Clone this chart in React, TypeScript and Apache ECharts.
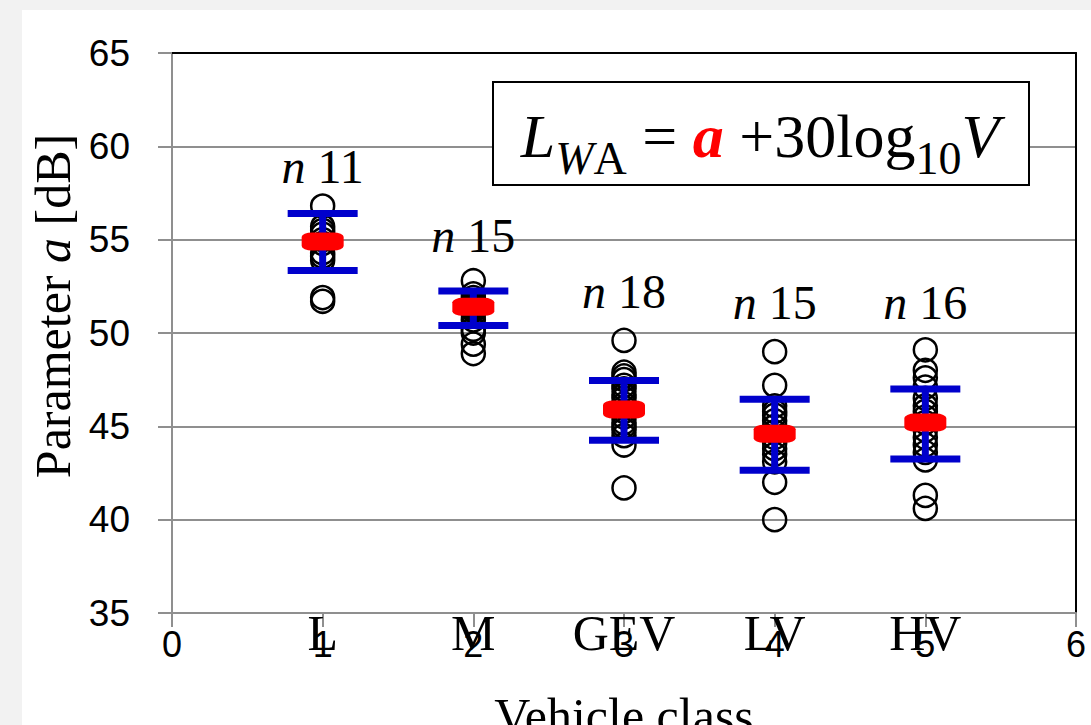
import React, { useEffect, useRef } from "react";
import * as echarts from "echarts";

// ---- data ----
const categories = ["L", "M", "GEV", "LV", "HV"];
const classPositions = [1, 2, 3, 4, 5];
const sampleCounts = [11, 15, 18, 15, 16];

const valuesL = [56.8, 55.7, 55.5, 55.3, 55.0, 54.8, 54.3, 54.1, 53.9, 51.9, 51.7];
const valuesM = [52.8, 52.1, 51.9, 51.7, 51.6, 51.5, 51.4, 51.3, 51.2, 51.0, 50.7, 50.2, 50.0, 49.4, 48.9];
const valuesGEV = [49.6, 47.9, 47.7, 47.5, 47.2, 47.0, 46.7, 46.5, 46.2, 46.0, 45.8, 45.5, 45.2, 45.0, 44.8, 44.5, 44.0, 41.7];
const valuesLV = [49.0, 47.2, 46.1, 45.8, 45.6, 45.3, 45.0, 44.7, 44.4, 44.1, 43.8, 43.5, 43.1, 42.0, 40.0];
const valuesHV = [49.1, 48.0, 47.6, 47.1, 46.5, 46.1, 45.8, 45.5, 45.2, 44.8, 44.4, 44.0, 43.6, 43.2, 41.3, 40.6];

const meanValues = [54.9, 51.4, 45.9, 44.6, 45.2];
const upperValues = [56.4, 52.25, 47.45, 46.45, 47.0];
const lowerValues = [53.35, 50.4, 44.25, 42.65, 43.25];
const countLabelY = [58.9, 55.2, 52.2, 51.65, 51.65];

const yMin = 35;
const yMax = 65;
const yInterval = 5;
const xMin = 0;
const xMax = 6;
const xInterval = 1;

const SERIF = "'Liberation Serif', 'Times New Roman', serif";
const SANS = "'Liberation Sans', Arial, sans-serif";
const GRID_GRAY = "#8f8f8f";

export default function App() {
  const ref = useRef<HTMLDivElement>(null);

  useEffect(() => {
    if (!ref.current) return;
    const chart = echarts.init(ref.current, undefined, { renderer: "svg" });

    const groups = [valuesL, valuesM, valuesGEV, valuesLV, valuesHV];
    const pointData: number[][] = [];
    groups.forEach((vals, i) => vals.forEach((v) => pointData.push([classPositions[i], v])));

    const subStyle = { fontFamily: SERIF, fontSize: 46, lineHeight: 20, padding: [44, 0, 0, 0], fill: "#000" };

    const option: any = {
      animation: false,
      backgroundColor: "transparent",
      grid: { left: 172, top: 53, width: 904, height: 560, containLabel: false },
      xAxis: [
        {
          type: "value",
          position: "bottom",
          min: xMin,
          max: xMax,
          interval: xInterval,
          axisLine: { show: true, onZero: false, lineStyle: { color: GRID_GRAY, width: 2 } },
          axisTick: { show: true, length: 14, lineStyle: { color: GRID_GRAY, width: 2 } },
          splitLine: { show: false },
          axisLabel: { color: "#000", fontFamily: SANS, fontSize: 36, margin: 13 },
          name: "Vehicle class",
          nameLocation: "middle",
          nameGap: 78,
          nameTextStyle: { color: "#000", fontFamily: SERIF, fontSize: 50 },
        },
        {
          type: "value",
          position: "bottom",
          min: xMin,
          max: xMax,
          interval: xInterval,
          axisLine: { show: false, onZero: false },
          axisTick: { show: false },
          splitLine: { show: false },
          axisLabel: {
            color: "#000",
            fontFamily: SERIF,
            fontSize: 50,
            margin: -5,
            formatter: (v: number) => {
              const i = classPositions.indexOf(v);
              return i >= 0 ? categories[i] : "";
            },
          },
        },
        {
          type: "value",
          position: "top",
          min: xMin,
          max: xMax,
          axisLine: { show: true, onZero: false, lineStyle: { color: "#000", width: 2 } },
          axisTick: { show: false },
          axisLabel: { show: false },
          splitLine: { show: false },
        },
      ],
      yAxis: [
        {
          type: "value",
          position: "left",
          min: yMin,
          max: yMax,
          interval: yInterval,
          axisLine: { show: true, onZero: false, lineStyle: { color: GRID_GRAY, width: 2 } },
          axisTick: { show: true, length: 14, lineStyle: { color: GRID_GRAY, width: 2 } },
          splitLine: { show: true, lineStyle: { color: GRID_GRAY, width: 2 } },
          axisLabel: { color: "#000", fontFamily: SANS, fontSize: 37, margin: 42 },
          name: "{r|Parameter }{i|a}{r| [dB]}",
          nameLocation: "middle",
          nameRotate: 90,
          nameGap: 89,
          nameTextStyle: {
            color: "#000",
            fontFamily: SERIF,
            fontSize: 50,
            padding: [0, 0, 0, 54],
            rich: {
              r: { fontFamily: SERIF, fontSize: 50, color: "#000" },
              i: { fontFamily: SERIF, fontSize: 50, fontStyle: "italic", color: "#000" },
            },
          },
        },
        {
          type: "value",
          position: "right",
          min: yMin,
          max: yMax,
          axisLine: { show: true, onZero: false, lineStyle: { color: "#000", width: 2 } },
          axisTick: { show: false },
          axisLabel: { show: false },
          splitLine: { show: false },
        },
      ],
      graphic: [
        {
          type: "rect",
          z: 100,
          shape: { x: 493, y: 82, width: 536, height: 103 },
          style: { fill: "#fff", stroke: "#000", lineWidth: 2 },
        },
        {
          type: "text",
          z: 101,
          x: 760,
          y: 101,
          style: {
            text: "{Li|L}{Ws|W}{As|A}{m| = }{a|a}{m| +30log}{s|10}{Vi|V}",
            align: "center",
            verticalAlign: "top",
            fill: "#000",
            font: `62px ${SERIF}`,
            rich: {
              Li: { fontFamily: SERIF, fontSize: 62, fontStyle: "italic", lineHeight: 70, fill: "#000" },
              Ws: { ...subStyle, fontStyle: "italic" },
              As: { ...subStyle },
              m: { fontFamily: SERIF, fontSize: 62, lineHeight: 70, fill: "#000" },
              a: {
                fontFamily: SERIF,
                fontSize: 62,
                fontStyle: "italic",
                fontWeight: "bold",
                lineHeight: 70,
                fill: "#ff0000",
              },
              s: { ...subStyle },
              Vi: { fontFamily: SERIF, fontSize: 62, fontStyle: "italic", lineHeight: 70, fill: "#000" },
            },
          },
        },
      ],
      series: [
        {
          name: "Measurements",
          type: "scatter",
          xAxisIndex: 0,
          yAxisIndex: 0,
          symbol: "circle",
          symbolSize: 23,
          itemStyle: { color: "rgba(0,0,0,0)", borderColor: "#000", borderWidth: 2.5, opacity: 1 },
          data: pointData,
          z: 3,
        },
        {
          name: "Spread",
          type: "custom",
          xAxisIndex: 0,
          yAxisIndex: 0,
          z: 4,
          encode: { x: 0, y: [1, 2] },
          data: classPositions.map((x, i) => [x, lowerValues[i], upperValues[i]]),
          renderItem: (params: any, api: any) => {
            const x = api.value(0);
            const lo = api.coord([x, api.value(1)]);
            const hi = api.coord([x, api.value(2)]);
            const half = 35;
            const style = { stroke: "#0000cc", lineWidth: 7, fill: "none" };
            return {
              type: "group",
              children: [
                { type: "line", shape: { x1: lo[0], y1: lo[1], x2: hi[0], y2: hi[1] }, style },
                { type: "line", shape: { x1: hi[0] - half, y1: hi[1], x2: hi[0] + half, y2: hi[1] }, style },
                { type: "line", shape: { x1: lo[0] - half, y1: lo[1], x2: lo[0] + half, y2: lo[1] }, style },
              ],
            };
          },
        },
        {
          name: "Mean",
          type: "scatter",
          xAxisIndex: 0,
          yAxisIndex: 0,
          z: 5,
          symbol: "roundRect",
          symbolSize: [42, 18],
          itemStyle: { color: "#ff0000", opacity: 1 },
          data: classPositions.map((x, i) => [x, meanValues[i]]),
        },
        {
          name: "Counts",
          type: "scatter",
          xAxisIndex: 0,
          yAxisIndex: 0,
          z: 6,
          symbolSize: 1,
          itemStyle: { color: "rgba(0,0,0,0)", opacity: 1 },
          data: classPositions.map((x, i) => [x, countLabelY[i], sampleCounts[i]]),
          label: {
            show: true,
            position: "inside",
            color: "#000",
            formatter: (p: any) => `{i|n}{r| ${p.value[2]}}`,
            rich: {
              i: { fontFamily: SERIF, fontSize: 48, fontStyle: "italic", color: "#000" },
              r: { fontFamily: SERIF, fontSize: 48, color: "#000" },
            },
          },
        },
      ],
    };

    chart.setOption(option);
    return () => chart.dispose();
  }, []);

  return (
    <div
      style={{
        position: "fixed",
        left: 0,
        top: 0,
        width: 1091,
        height: 725,
        overflow: "hidden",
        background: "#f2f2f2",
      }}
    >
      <div style={{ position: "absolute", left: 22, top: 10, right: 0, bottom: 0, background: "#fff" }} />
      <div ref={ref} style={{ position: "absolute", left: 0, top: 0, width: 1091, height: 800 }} />
    </div>
  );
}
